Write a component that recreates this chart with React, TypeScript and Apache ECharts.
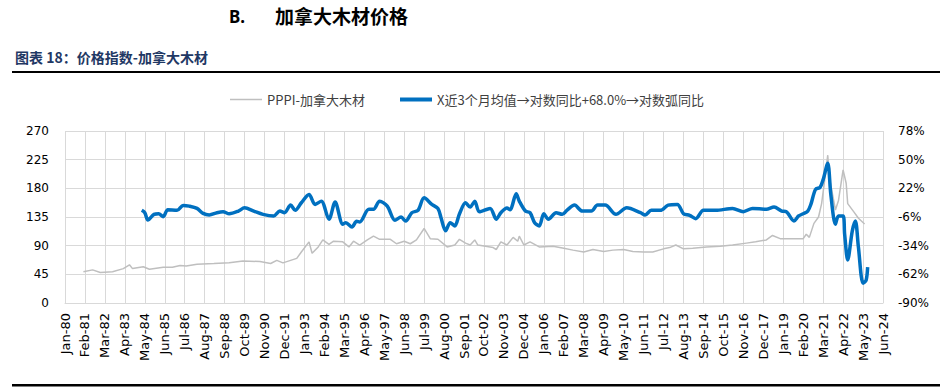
import React, { useEffect, useRef } from "react";
import * as echarts from "echarts";

// Month offsets counted from Jan-1980 (0 = Jan-80)
const ppiMonths = [
  12, 18, 23, 31, 38, 42, 44, 51, 55, 64, 70, 75, 79, 86, 97, 107, 116, 127, 134, 138, 142,
  151, 154, 159, 161, 165, 168, 172, 175, 181, 185, 188, 192, 197, 201, 205, 212, 216, 221,
  225, 229, 234, 238, 243, 249, 254, 257, 261, 264, 267, 269, 279, 281, 284, 288, 292, 295,
  296, 299, 303, 309, 318, 325, 331, 338, 344, 351, 357, 364, 370, 377, 383, 390, 394, 398,
  403, 409, 418, 427, 435, 444, 450, 457, 461, 466, 472, 481, 483, 485, 488, 491, 493, 495,
  497, 498, 502, 504, 507, 509, 510, 514, 517, 521,
];
const ppiValues = [
  49, 52, 48, 49, 54, 60, 54, 57, 53, 56, 56, 59, 58, 61, 62, 63, 66, 65, 62, 67, 63,
  70, 80, 96, 78, 88, 99, 92, 97, 96, 88, 97, 91, 99, 105, 100, 100, 93, 97,
  93, 99, 117, 101, 100, 88, 91, 100, 94, 91, 99, 91, 87, 84, 96, 91, 103, 97,
  105, 91, 96, 88, 89, 86, 83, 80, 84, 81, 83, 84, 81, 80, 80, 85, 87, 91,
  85, 86, 88, 89, 91, 94, 96, 99, 106, 101, 101, 101, 108, 103, 125, 135, 156, 193,
  232, 198, 146, 161, 209, 188, 156, 143, 133, 124,
];

const yoyMonths = [
  50, 52, 54, 58, 61, 64, 67, 73, 77, 81, 86, 90, 94, 99, 103, 107, 113, 117, 123, 129, 136,
  140, 143, 147, 150, 154, 159, 163, 167, 172, 176, 181, 183, 187, 190, 192, 198, 201, 205,
  210, 215, 219, 222, 226, 230, 234, 239, 243, 245, 248, 251, 254, 257, 261, 264, 267, 270,
  277, 281, 284, 288, 290, 294, 296, 300, 303, 306, 309, 312, 315, 320, 324, 327, 332, 337,
  343, 347, 352, 359, 366, 375, 378, 382, 388, 393, 399, 403, 407, 411, 416, 424, 435, 442,
  448, 457, 462, 467, 470, 475, 478, 481, 484, 486, 489, 492, 494, 497, 499, 502, 504, 507,
  508, 510, 513, 515, 517, 520, 522, 523,
];
const yoyValues = [
  0.5, -1.8, -8.9, -3.4, -2.8, -5.7, 1.1, 0.5, 5.3, 4.6, 2.4, -2.5, -4, -1.8, -0.8, -2.8, -0.2, 3, -0.2, -3.4, -5,
  -0.2, -1.8, 5.6, 0.5, 7.9, 16, 6.3, 9.5, -8.2, 8.6, -13, -11.5, -15.7, -10.2, -10.8, 1.5, 1.5, 9.5,
  4.6, -9.2, -6.1, -10, -1.8, 0.5, 12.7, 6.3, 2.4, -6.7, -19.5, -11.5, -14.7, -3, 7.9, 3.7, 9.5, -0.9,
  2.4, -8.2, -1.8, 2.7, 1.1, 16.6, 9.5, -0.2, -1.8, -11.5, -14.7, -2.8, -8.2, -1.8, -3.4, 0.5, 5.6, -0.2,
  -0.2, 5.6, 5.6, -3.4, 3, -1.8, -4, 0.5, 0.5, 5.6, 6.3, -2.8, -4.4, -7.6, 0.5, 0.5, 2.4, -0.8,
  2.4, 1.5, 3.7, -0.2, -0.8, -9.9, -5, -2.8, -0.2, 6.3, 20.9, 23, 30.5, 46.6, 16, -13, -5, -5,
  -22.7, -48, -19.5, -9.9, -35.7, -70.6, -67.7, -55,
];

const monthNames = ["Jan", "Feb", "Mar", "Apr", "May", "Jun", "Jul", "Aug", "Sep", "Oct", "Nov", "Dec"];
const lastMonth = 533; // Jun-24
const labelStep = 13;

const leftMin = 0;
const leftMax = 270;
const leftStep = 45;
const rightMin = -90;
const rightMax = 78;
const rightStep = 28;

const seriesNames = ["PPPI-加拿大木材", "X近3个月均值→对数同比+68.0%→对数弧同比"];

function monthLabel(idx: number): string {
  const i = Math.round(idx);
  const yr = (80 + Math.floor(i / 12)) % 100;
  return `${monthNames[i % 12]}-${String(yr).padStart(2, "0")}`;
}

export default function App() {
  const ref = useRef<HTMLDivElement>(null);
  useEffect(() => {
    document.body.style.margin = "0";
    if (!ref.current) return;
    const chart = echarts.init(ref.current, undefined, { renderer: "svg" });
    const greyData = ppiMonths.map((m, i) => [m, ppiValues[i]]);
    const blueData = yoyMonths.map((m, i) => [m, yoyValues[i]]);
    const axisFont = "DejaVu Sans, sans-serif";
    chart.setOption({
      animation: false,
      backgroundColor: "#ffffff",
      graphic: [
        {
          type: "text",
          left: 229,
          top: 8,
          style: { text: "B.", font: "bold 17px 'Noto Sans', sans-serif", fill: "#000" },
        },
        {
          type: "text",
          left: 275,
          top: 6,
          style: { text: "加拿大木材价格", font: "bold 19px 'Noto Sans CJK SC', sans-serif", fill: "#000" },
        },
        {
          type: "text",
          left: 15,
          top: 50,
          style: {
            text: "图表 18：价格指数-加拿大木材",
            font: "bold 14px 'Noto Sans CJK SC', sans-serif",
            fill: "#1F3864",
          },
        },
        {
          type: "rect",
          shape: { x: 12, y: 71, width: 928, height: 2 },
          style: { fill: "#000" },
        },
        {
          type: "rect",
          shape: { x: 12, y: 384, width: 928, height: 2.5 },
          style: { fill: "#000" },
        },
      ],
      legend: {
        left: 225,
        top: 88,
        itemWidth: 32,
        itemHeight: 14,
        itemGap: 35,
        textStyle: { fontSize: 13, color: "#404040", fontFamily: "'Noto Sans CJK SC', sans-serif" },
        data: [
          { name: seriesNames[0], icon: "path://M0,0H32V1.5H0Z", itemStyle: { color: "#BFBFBF" } },
          { name: seriesNames[1], icon: "path://M0,0H32V4H0Z", itemStyle: { color: "#0070C0" } },
        ],
      },
      grid: { left: 65, right: 65, top: 131, bottom: 87, containLabel: false, outerBoundsMode: "none" },
      xAxis: {
        type: "value",
        min: 0,
        max: lastMonth,
        interval: labelStep,
        axisLine: { show: true, lineStyle: { color: "#D9D9D9", width: 1 } },
        axisTick: { show: false },
        splitLine: { show: true, lineStyle: { color: "#D9D9D9", width: 1 } },
        axisLabel: {
          rotate: 90,
          margin: 10,
          color: "#000",
          fontSize: 13,
          fontFamily: axisFont,
          formatter: (v: number) => monthLabel(v),
          showMinLabel: true,
          showMaxLabel: true,
        },
      },
      yAxis: [
        {
          type: "value",
          min: leftMin,
          max: leftMax,
          interval: leftStep,
          axisLine: { show: false },
          axisTick: { show: false },
          splitLine: { show: true, lineStyle: { color: "#D9D9D9", width: 1 } },
          axisLabel: { color: "#000", fontSize: 12, fontFamily: axisFont, margin: 16 },
        },
        {
          type: "value",
          min: rightMin,
          max: rightMax,
          interval: rightStep,
          position: "right",
          axisLine: { show: false },
          axisTick: { show: false },
          splitLine: { show: false },
          axisLabel: { color: "#000", fontSize: 12, fontFamily: axisFont, margin: 15, formatter: (v: number) => `${v}%` },
        },
      ],
      series: [
        {
          name: seriesNames[0],
          type: "line",
          yAxisIndex: 0,
          data: greyData,
          symbol: "none",
          smooth: false,
          lineStyle: { color: "#BFBFBF", width: 1.5 },
          itemStyle: { color: "#BFBFBF" },
          z: 2,
        },
        {
          name: seriesNames[1],
          type: "line",
          yAxisIndex: 1,
          data: blueData,
          symbol: "none",
          smooth: 0.3,
          lineStyle: { color: "#0070C0", width: 3.5 },
          itemStyle: { color: "#0070C0" },
          z: 3,
        },
      ],
    });
    return () => chart.dispose();
  }, []);
  return <div ref={ref} style={{ width: 948, height: 390 }} />;
}
